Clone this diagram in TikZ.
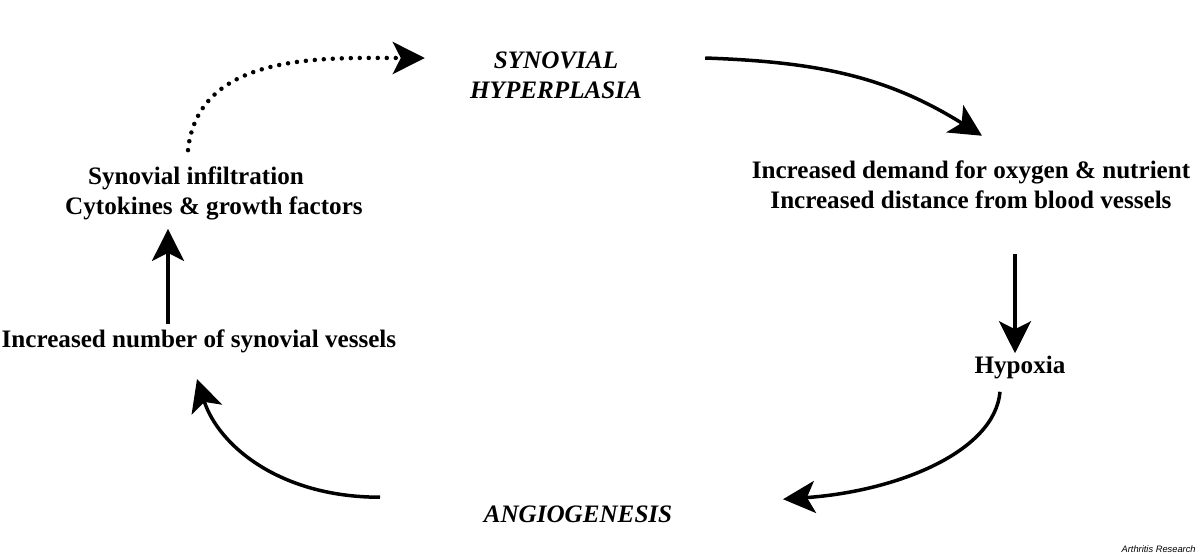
\documentclass[tikz,border=0pt]{standalone}
\usepackage{fontspec}
\setmainfont{Liberation Serif}
\setsansfont{Liberation Sans}
\usetikzlibrary{arrows.meta,calc}

\begin{document}
\begin{tikzpicture}[x=0.02cm,y=-0.02cm]
\tikzstyle{every node}+=[inner sep=0pt]
\tikzstyle{lbl}=[font=\fontsize{14.3}{17}\selectfont\bfseries, align=center]
\tikzstyle{flow}=[line width=0.07cm, -{Stealth[length=0.64cm,width=0.64cm,inset=0.16cm]}]
\tikzstyle{dots}=[flow, line cap=round, dash pattern=on 0pt off 0.18cm, line width=0.09cm]
\useasboundingbox (0,0) rectangle (1200,556);
% texts
\node [lbl] (hyper) at (556,75) {\itshape SYNOVIAL\\\itshape HYPERPLASIA};
\node [lbl] (demand) at (971,185) {Increased demand for oxygen \& nutrient\\Increased distance from blood vessels};
\node [lbl] (hypoxia) at (1020,367) {Hypoxia};
\node [lbl] (angio) at (578,514) {\itshape ANGIOGENESIS};
\node [lbl] (vessels) at (199,341) {Increased number of synovial vessels};
\node [lbl] (infil) at (214,193) {Synovial infiltration\hspace*{0.72cm}\\Cytokines \& growth factors};
\node [font=\fontsize{5.3}{6}\selectfont\sffamily\itshape, anchor=east] (credit) at (1196,549) {Arthritis Research};
% cycle
\draw [flow] ($(hyper.east)+(63,-17)$) to[out=-2,in=148] ($(demand.north)+(11,-25)$);
\draw [flow] ($(demand.south)+(44,45)$) -- ($(hypoxia.north)+(-5,-2)$);
\draw [flow] ($(hypoxia.south)+(-20,13)$) to[out=-95,in=4,out distance=1.2cm,in distance=2.3cm] ($(angio.north)+(205,-6)$);
\draw [flow] ($(angio.north)+(-198,-8)$) to[out=180,in=-72,out distance=2cm,in distance=1.4cm] ($(vessels.north)+(-2,50)$);
\draw [flow] ($(vessels.north)+(-31,-5)$) -- ($(infil.south)+(-46,9)$);
\draw [dots] ($(infil.north)+(-26,-16)$) to[out=84,in=180] ($(hyper.west)+(-45,-17)$);
\end{tikzpicture}
\end{document}
